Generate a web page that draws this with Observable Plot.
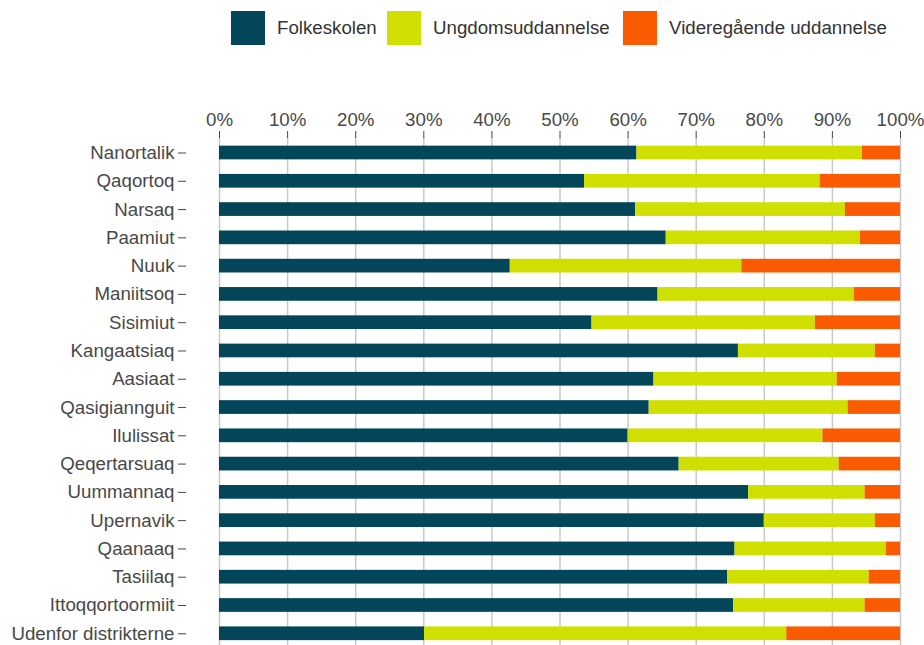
<!DOCTYPE html>
<html>
<head>
<meta charset="utf-8">
<script src="https://cdn.jsdelivr.net/npm/d3@7"></script>
<script src="https://cdn.jsdelivr.net/npm/@observablehq/plot@0.6"></script>
<style>
  html, body { margin: 0; padding: 0; background: #fff; }
  body { width: 924px; height: 645px; overflow: hidden; font-family: "Liberation Sans", Arial, sans-serif; }
  #legend { position: relative; height: 56px; }
  .sw { position: absolute; top: 11px; width: 34px; height: 34px; }
  .lt { position: absolute; top: 17px; font-size: 18.7px; line-height: 22px; color: #333; white-space: nowrap; }
  svg { display: block; }
</style>
</head>
<body>
<div id="legend"></div>
<div id="chart"></div>
<script>
const regions = ["Nanortalik","Qaqortoq","Narsaq","Paamiut","Nuuk","Maniitsoq","Sisimiut","Kangaatsiaq","Aasiaat","Qasigiannguit","Ilulissat","Qeqertarsuaq","Uummannaq","Upernavik","Qaanaaq","Tasiilaq","Ittoqqortoormiit","Udenfor distrikterne"];
const folkeskolen = [61.3, 53.6, 61.1, 65.6, 42.7, 64.4, 54.7, 76.2, 63.8, 63.1, 60.0, 67.5, 77.7, 80.0, 75.7, 74.6, 75.5, 30.1];
const ungdomsuddannelse = [33.1, 34.6, 30.8, 28.5, 34.0, 28.8, 32.8, 20.1, 26.9, 29.2, 28.6, 23.5, 17.1, 16.3, 22.2, 20.8, 19.3, 53.2];
const videregaaende = [5.6, 11.8, 8.1, 5.9, 23.3, 6.8, 12.5, 3.7, 9.3, 7.7, 11.4, 9.0, 5.2, 3.7, 2.1, 4.6, 5.2, 16.7];
const categories = ["Folkeskolen", "Ungdomsuddannelse", "Videregående uddannelse"];
const colors = ["#03465a", "#cfe000", "#fa5a00"];
const xTicks = [0, 10, 20, 30, 40, 50, 60, 70, 80, 90, 100];

const series = [folkeskolen, ungdomsuddannelse, videregaaende];
const data = regions.flatMap((r, i) => categories.map((c, j) => ({region: r, cat: c, value: series[j][i]})));

// legend
const legend = document.getElementById("legend");
const legendPos = [[231, 277], [387, 433], [623, 669]];
categories.forEach((c, i) => {
  const sw = document.createElement("div");
  sw.className = "sw";
  sw.style.left = legendPos[i][0] + "px";
  sw.style.background = colors[i];
  legend.appendChild(sw);
  const t = document.createElement("div");
  t.className = "lt";
  t.style.left = legendPos[i][1] + "px";
  t.textContent = c;
  legend.appendChild(t);
});

const chart = Plot.plot({
  width: 924,
  height: 589,
  marginTop: 81,
  marginLeft: 186,
  marginRight: 24,
  marginBottom: 0,
  style: {fontFamily: "Liberation Sans, Arial, sans-serif", fontSize: "18.7px", color: "#484848", background: "#fff"},
  x: {domain: [0, 100], insetLeft: 33},
  y: {domain: regions, paddingInner: 0.515, paddingOuter: 0.239, align: 0.64, round: false},
  color: {domain: categories, range: colors},
  marks: [
    Plot.gridX(xTicks, {stroke: "#c8c8c8", strokeOpacity: 1, strokeWidth: 1.5}),
    Plot.barX(data, {x: "value", y: "region", fill: "cat"}),
    Plot.axisX(xTicks, {anchor: "top", tickSize: 7, tickPadding: 5, tickFormat: d => d + "%", label: null, fontSize: 18.7}),
    Plot.axisY({tickSize: 8, tickPadding: 4, label: null, fontSize: 18.7})
  ]
});
document.getElementById("chart").appendChild(chart);
</script>
</body>
</html>
